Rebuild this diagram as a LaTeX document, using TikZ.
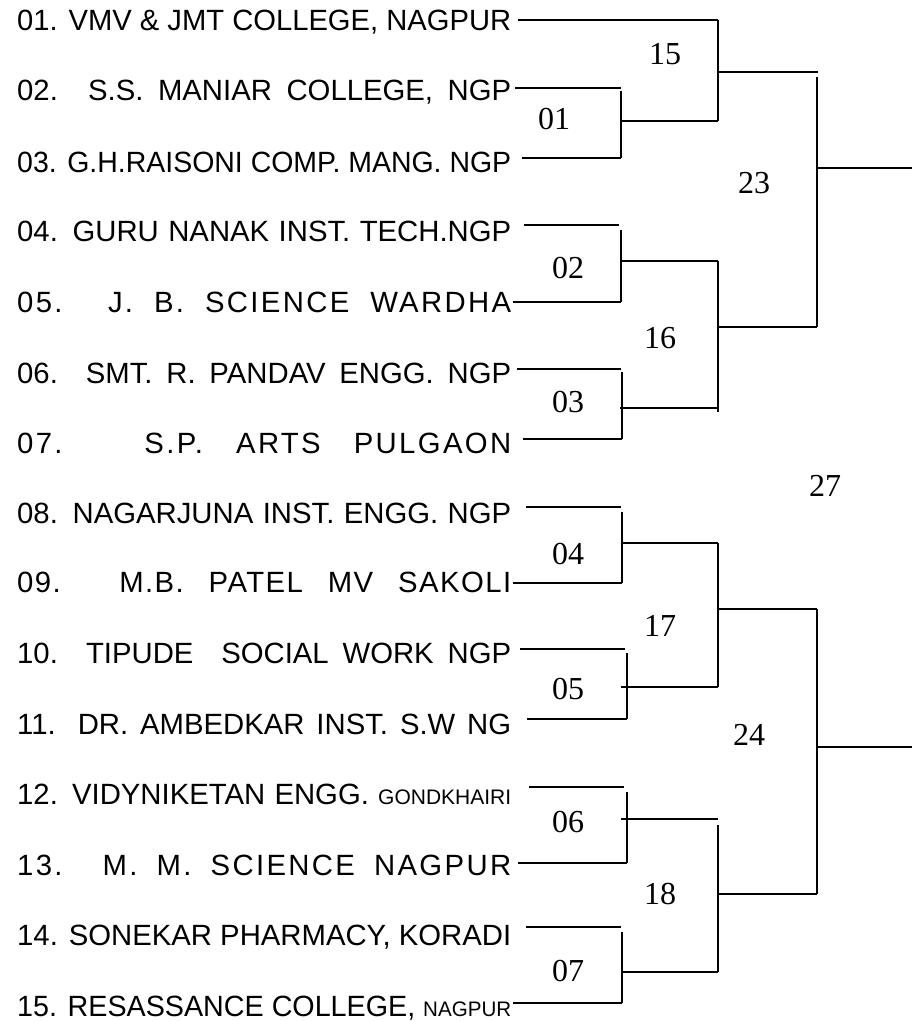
\documentclass[tikz,border=0pt]{standalone}
\usepackage{fontspec}
\usepackage{graphicx}
\setmainfont{Liberation Sans}
\newfontfamily\numfont{Liberation Serif}
\newfontfamily\spacedfont{Liberation Sans}[LetterSpace=5]
\newfontfamily\widefont{Liberation Sans}[LetterSpace=8]
\newlength\teamw
\setlength\teamw{494pt}
\newsavebox\teambox
\newcommand\teamline[1]{\sbox\teambox{#1}\ifdim\wd\teambox>\teamw\resizebox{\teamw}{\ht\teambox}{\usebox\teambox}\else\makebox[\teamw][s]{#1}\fi}
\newcommand\smallpart[1]{{\fontsize{21}{22}\selectfont #1}}
\tikzset{
  team/.style={inner sep=0pt, anchor=base west, font=\fontsize{29.3}{31}\selectfont},
  rnum/.style={inner sep=0pt, anchor=center, font=\numfont\fontsize{32}{34}\selectfont},
  bline/.style={line width=2.5pt, black}
}
\begin{document}
\begin{tikzpicture}[x=1pt,y=-1pt]
\useasboundingbox (0,0) rectangle (912,1021);
% team names
\node[team] (t1)  at (17,30)   {\teamline{01. VMV \& JMT COLLEGE, NAGPUR}};
\node[team] (t2)  at (17,100)  {\teamline{02. S.S. MANIAR COLLEGE, NGP}};
\node[team] (t3)  at (17,172)  {\teamline{03. G.H.RAISONI COMP. MANG. NGP}};
\node[team] (t4)  at (17,241)  {\teamline{04. GURU NANAK INST. TECH.NGP}};
\node[team] (t5)  at (17,312)  {\teamline{\widefont 05. J. B. SCIENCE WARDHA}};
\node[team] (t6)  at (17,383)  {\teamline{06. SMT. R. PANDAV ENGG. NGP}};
\node[team] (t7)  at (17,453)  {\teamline{\widefont 07. S.P. ARTS PULGAON}};
\node[team] (t8)  at (17,523)  {\teamline{08. NAGARJUNA INST. ENGG. NGP}};
\node[team] (t9)  at (17,592)  {\teamline{\spacedfont 09. M.B. PATEL MV SAKOLI}};
\node[team] (t10) at (17,663)  {\teamline{10. TIPUDE\ \ SOCIAL WORK NGP}};
\node[team] (t11) at (17,734)  {\teamline{11. DR. AMBEDKAR INST. S.W NG}};
\node[team] (t12) at (17,804)  {\teamline{12. VIDYNIKETAN ENGG. \smallpart{GONDKHAIRI}}};
\node[team] (t13) at (17,875)  {\teamline{\widefont 13. M. M. SCIENCE NAGPUR}};
\node[team] (t14) at (17,945)  {\teamline{14. SONEKAR PHARMACY, KORADI}};
\node[team] (t15) at (17,1016) {\teamline{15. RESASSANCE COLLEGE, \smallpart{NAGPUR}}};
% team line starts
\coordinate (a1)  at (518,20);
\coordinate (a2)  at (515,88);
\coordinate (a3)  at (522,158);
\coordinate (a4)  at (524,225);
\coordinate (a5)  at (513,302);
\coordinate (a6)  at (517,369);
\coordinate (a7)  at (523,439);
\coordinate (a8)  at (526,507);
\coordinate (a9)  at (513,583);
\coordinate (a10) at (520,649);
\coordinate (a11) at (527,719);
\coordinate (a12) at (529,787);
\coordinate (a13) at (518,863);
\coordinate (a14) at (526,927);
\coordinate (a15) at (513,1003);
% round 1 bracket points
\coordinate (m01t) at (621,88);  \coordinate (m01v) at (621,91);  \coordinate (m01b) at (621,158); \coordinate (m01o) at (621,121);
\coordinate (m02t) at (619,225); \coordinate (m02v) at (621,230); \coordinate (m02b) at (621,302); \coordinate (m02o) at (621,261);
\coordinate (m03t) at (621,369); \coordinate (m03v) at (622,372); \coordinate (m03b) at (622,439); \coordinate (m03o) at (620,408);
\coordinate (m04t) at (621,507); \coordinate (m04v) at (622,512); \coordinate (m04b) at (622,583); \coordinate (m04o) at (622,543);
\coordinate (m05t) at (625,649); \coordinate (m05v) at (627,653); \coordinate (m05b) at (627,719); \coordinate (m05o) at (621,687);
\coordinate (m06t) at (624,787); \coordinate (m06v) at (627,792); \coordinate (m06b) at (627,863); \coordinate (m06o) at (621,819);
\coordinate (m07t) at (621,927); \coordinate (m07v) at (622,932); \coordinate (m07b) at (622,1003); \coordinate (m07o) at (621,972);
% round 2 points (x = 718)
\coordinate (m15t) at (718,20);  \coordinate (m15b) at (718,121); \coordinate (m15o) at (718,72);
\coordinate (m16i) at (718,261); \coordinate (m16b) at (718,412); \coordinate (m16o) at (718,327); \coordinate (m16c) at (718,408);
\coordinate (m17i) at (718,543); \coordinate (m17b) at (718,687); \coordinate (m17o) at (718,609);
\coordinate (m18i) at (718,819); \coordinate (m18v) at (718,825); \coordinate (m18b) at (718,972); \coordinate (m18o) at (718,894);
\coordinate (m01e) at (718,121);
% round 3 points (x = 817)
\coordinate (m23i) at (818,72);  \coordinate (m23v) at (817,77);  \coordinate (m23b) at (817,327); \coordinate (m23o) at (817,168);
\coordinate (m24t) at (817,609); \coordinate (m24b) at (817,894); \coordinate (m24o) at (817,747);
\coordinate (f23) at (912,168);
\coordinate (f24) at (912,747);
% team lines
\draw[bline] (a1) -- (m15t);
\draw[bline] (a2) -- (m01t);
\draw[bline] (a3) -- (m01b);
\draw[bline] (a4) -- (m02t);
\draw[bline] (a5) -- (m02b);
\draw[bline] (a6) -- (m03t);
\draw[bline] (a7) -- (m03b);
\draw[bline] (a8) -- (m04t);
\draw[bline] (a9) -- (m04b);
\draw[bline] (a10) -- (m05t);
\draw[bline] (a11) -- (m05b);
\draw[bline] (a12) -- (m06t);
\draw[bline] (a13) -- (m06b);
\draw[bline] (a14) -- (m07t);
\draw[bline] (a15) -- (m07b);
% round 1 brackets
\draw[bline] (m01v) -- (m01b);  \draw[bline] (m01o) -- (m01e);
\draw[bline] (m02v) -- (m02b);  \draw[bline] (m02o) -- (m16i);
\draw[bline] (m03v) -- (m03b);  \draw[bline] (m03o) -- (m16c);
\draw[bline] (m04v) -- (m04b);  \draw[bline] (m04o) -- (m17i);
\draw[bline] (m05v) -- (m05b);  \draw[bline] (m05o) -- (m17b);
\draw[bline] (m06v) -- (m06b);  \draw[bline] (m06o) -- (m18i);
\draw[bline] (m07v) -- (m07b);  \draw[bline] (m07o) -- (m18b);
% round 2 brackets
\draw[bline] (m15t) -- (m15b);  \draw[bline] (m15o) -- (m23i);
\draw[bline] (m16i) -- (m16b);  \draw[bline] (m16o) -- (m23b);
\draw[bline] (m17i) -- (m17b);  \draw[bline] (m17o) -- (m24t);
\draw[bline] (m18v) -- (m18b);  \draw[bline] (m18o) -- (m24b);
% round 3 brackets
\draw[bline] (m23v) -- (m23b);  \draw[bline] (m23o) -- (f23);
\draw[bline] (m24t) -- (m24b);  \draw[bline] (m24o) -- (f24);
% match numbers
\node[rnum] (n15) at (665,54)  {15};
\node[rnum] (n01) at (554,119) {01};
\node[rnum] (n23) at (754,183) {23};
\node[rnum] (n02) at (568,268) {02};
\node[rnum] (n16) at (660,338) {16};
\node[rnum] (n03) at (568,402) {03};
\node[rnum] (n27) at (825,486) {27};
\node[rnum] (n04) at (568,554) {04};
\node[rnum] (n17) at (660,626) {17};
\node[rnum] (n05) at (568,689) {05};
\node[rnum] (n24) at (749,735) {24};
\node[rnum] (n06) at (568,822) {06};
\node[rnum] (n18) at (660,894) {18};
\node[rnum] (n07) at (568,971) {07};
\end{tikzpicture}
\end{document}
